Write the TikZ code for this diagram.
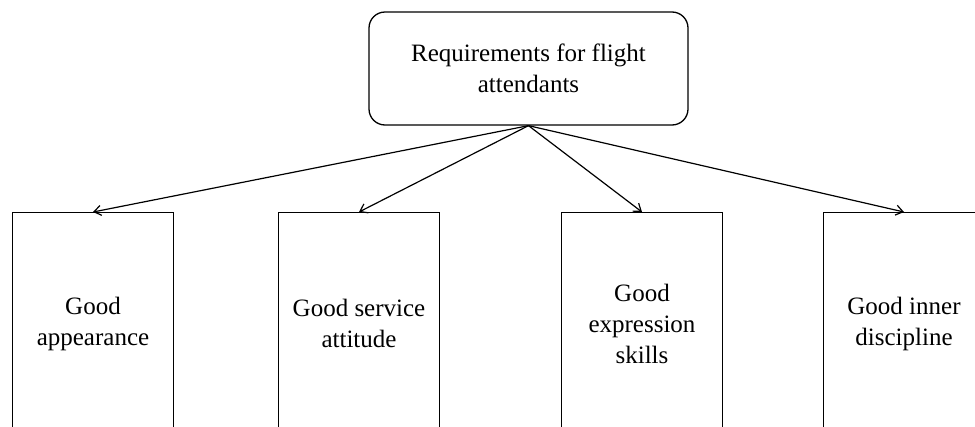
\documentclass[tikz,border=0pt]{standalone}
\usepackage{fontspec}
\setmainfont{Liberation Serif}
\usetikzlibrary{arrows.meta}
\tikzset{
  lbl/.style={font=\fontsize{25}{31}\selectfont, align=center},
  topbox/.style={draw, line width=1.3pt, rounded corners=16pt, minimum width=319pt, minimum height=113pt, lbl},
  subbox/.style={draw, line width=1.3pt, minimum width=161pt, minimum height=222pt, lbl},
  conn/.style={line width=1.2pt, -{Straight Barb[length=7pt,width=10pt,line width=1.2pt]}}
}
\begin{document}
\begin{tikzpicture}[x=1pt,y=-1pt]
\useasboundingbox (0,0) rectangle (975,426);
\clip (0,0) rectangle (975,426);
\fill[white] (0,0) rectangle (975,426);
\node[topbox] (top) at (528.5,68.5) {Requirements for flight\\attendants};
\node[subbox, anchor=north] (b1) at (93,212) {Good\\appearance};
\node[subbox, anchor=north] (b2) at (359,212) {Good service\\attitude};
\node[subbox, anchor=north] (b3) at (642,212) {Good\\expression\\skills};
\node[subbox, anchor=north] (b4) at (904,212) {Good inner\\discipline};
\draw[conn] (top.south) -- (b1.north);
\draw[conn] (top.south) -- (b2.north);
\draw[conn] (top.south) -- (b3.north);
\draw[conn] (top.south) -- (b4.north);
\end{tikzpicture}
\end{document}
